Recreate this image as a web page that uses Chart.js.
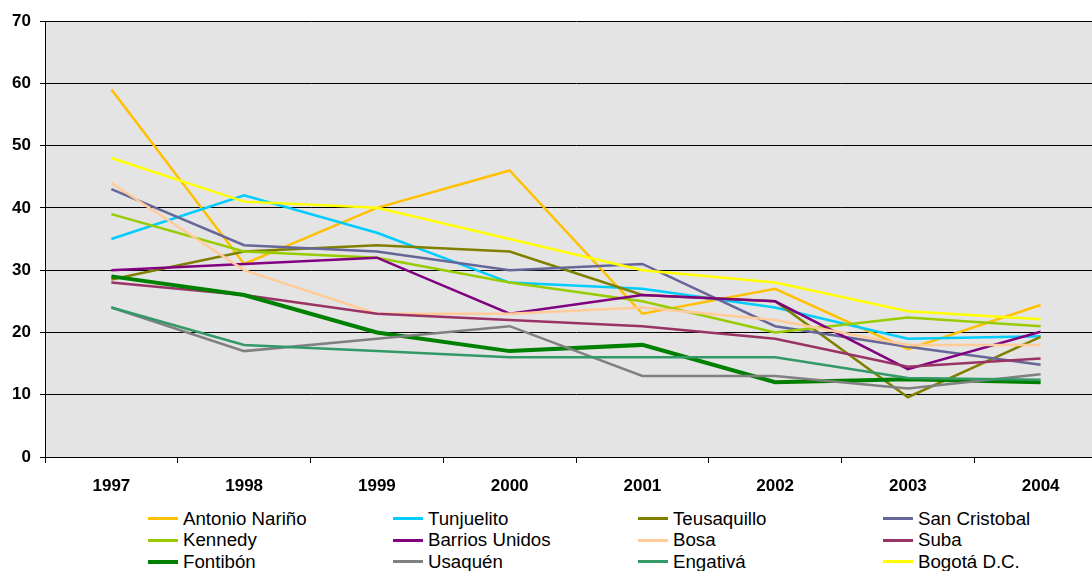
<!DOCTYPE html>
<html>
<head>
<meta charset="utf-8">
<script src="https://cdn.jsdelivr.net/npm/chart.js@4/dist/chart.umd.min.js"></script>
<style>
    html, body { margin: 0; padding: 0; background: #fff; }
    #wrap { position: relative; width: 1092px; height: 571px; overflow: hidden; }
    #box { position: absolute; left: 0; top: 0; width: 1112px; height: 500px; }
    #legend { position: absolute; left: 148px; top: 508px; display: grid;
        grid-template-columns: 245px 245px 245px 245px; grid-auto-rows: 21.5px;
        font-family: "Liberation Sans", Arial, sans-serif; font-size: 18.7px; color: #000; }
    .item { display: flex; align-items: center; white-space: nowrap; }
    .swatch { width: 30px; margin-right: 5px; }
</style>
</head>
<body>
<div id="wrap">
    <div id="box"><canvas id="myChart"></canvas></div>
    <div id="legend"></div>
</div>
<script>
// años
const anos = ["1997", "1998", "1999", "2000", "2001", "2002", "2003", "2004"];

// localidades
const localidades = [
    "Antonio Nariño", "Tunjuelito", "Teusaquillo", "San Cristobal",
    "Kennedy", "Barrios Unidos", "Bosa", "Suba",
    "Fontibón", "Usaquén", "Engativá", "Bogotá D.C.",
];

const antonioNarino = [59, 31, 40, 46, 23, 27, 17.3, 24.4];
const tunjuelito = [35, 42, 36, 28, 27, 24, 19, 19.4];
const teusaquillo = [28.5, 33, 34, 33, 26, 25, 9.6, 19.3];
const sanCristobal = [43, 34, 33, 30, 31, 21, 17.7, 14.8];
const kennedy = [39, 33, 32, 28, 25, 20, 22.4, 21];
const barriosUnidos = [30, 31, 32, 23, 26, 25, 14.1, 20.1];
const bosa = [44, 30, 23, 23, 24, 22, 18, 18];
const suba = [28, 26, 23, 22, 21, 19, 14.5, 15.8];
const fontibon = [29, 26, 20, 17, 18, 12, 12.5, 12];
const usaquen = [24, 17, 19, 21, 13, 13, 11, 13.3];
const engativa = [24, 18, 17, 16, 16, 16, 12.7, 12.4];
const bogota = [48, 41, 40, 35, 30, 28, 23.4, 22.1];

const yTicks = [0, 10, 20, 30, 40, 50, 60, 70];

const series = [antonioNarino, tunjuelito, teusaquillo, sanCristobal, kennedy, barriosUnidos,
    bosa, suba, fontibon, usaquen, engativa, bogota];
const colores = ["#ffc000", "#00ccff", "#808000", "#666699", "#99cc00", "#800080",
    "#ffcc99", "#993366", "#008000", "#808080", "#339966", "#ffff00"];

document.addEventListener("DOMContentLoaded", function () {
    // fondo gris del área de trazado
    const fondo = {
        id: "fondo",
        beforeDraw(chart) {
            const a = chart.chartArea;
            const c = chart.ctx;
            c.save();
            c.fillStyle = "#e4e4e4";
            c.fillRect(a.left, a.top, a.right - a.left, a.bottom - a.top);
            c.restore();
        },
    };

    const datasets = series.map((d, i) => ({
        label: localidades[i],
        data: d,
        borderColor: colores[i],
        backgroundColor: colores[i],
        borderWidth: localidades[i] === "Fontibón" ? 4 : 2.5,
        pointRadius: 0,
        tension: 0,
        order: series.length - i,
    }));

    const fuente = { family: "'Liberation Sans', Arial, sans-serif", size: 17, weight: "bold" };

    new Chart(document.getElementById("myChart"), {
        type: "line",
        data: { labels: anos, datasets: datasets },
        plugins: [fondo],
        options: {
            responsive: true,
            maintainAspectRatio: false,
            animation: false,
            layout: { padding: { top: 21, right: 5, left: 0, bottom: 0 } },
            plugins: { legend: { display: false }, tooltip: { enabled: false } },
            scales: {
                x: {
                    offset: true,
                    grid: { offset: true, drawOnChartArea: false, color: "#000", tickLength: 6 },
                    border: { color: "#000", width: 1 },
                    ticks: { color: "#000", font: fuente, padding: 13, maxRotation: 0 },
                    afterFit(s) { s.height = 43; },
                },
                y: {
                    min: 0,
                    max: 70,
                    afterBuildTicks(s) { s.ticks = yTicks.map((v) => ({ value: v })); },
                    grid: { color: "#000", lineWidth: 1, tickLength: 5 },
                    border: { color: "#000", width: 1 },
                    ticks: { color: "#000", font: fuente, padding: 9 },
                    afterFit(s) { s.width = 45; },
                },
            },
        },
    });

    // leyenda
    const ley = document.getElementById("legend");
    const filas = 3, cols = 4;
    for (let r = 0; r < filas; r++) {
        for (let c = 0; c < cols; c++) {
            const i = r * cols + c;
            const el = document.createElement("div");
            el.className = "item";
            const h = localidades[i] === "Fontibón" ? 4 : 3;
            el.innerHTML = `<span class="swatch" style="height:${h}px;background:${colores[i]}"></span><span>${localidades[i]}</span>`;
            ley.appendChild(el);
        }
    }
});
</script>
</body>
</html>
